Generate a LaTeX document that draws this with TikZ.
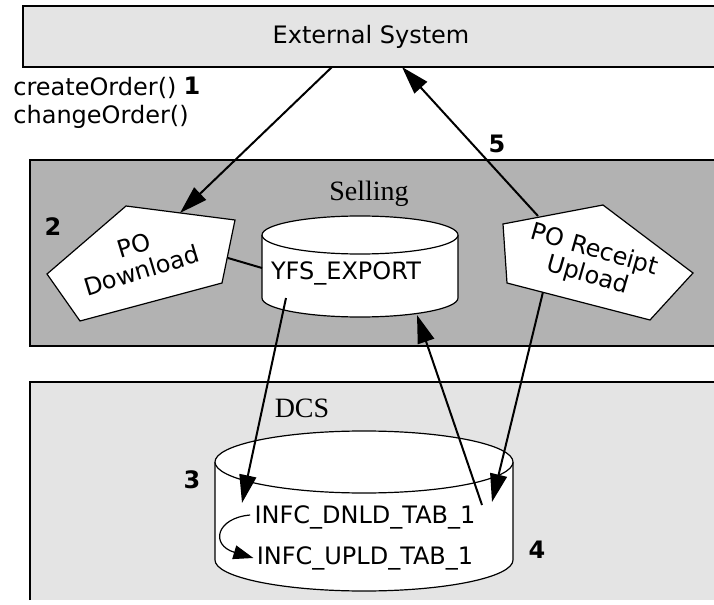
\documentclass[tikz,border=0pt]{standalone}
\usepackage{fontspec}
\setmainfont{DejaVu Sans}
\newfontfamily\labelserif{Liberation Serif}
\usepackage{tikz}
\usetikzlibrary{arrows.meta}
\usetikzlibrary{positioning}
\usetikzlibrary{calc}

\definecolor{lightbox}{HTML}{E4E4E4}
\definecolor{darkbox}{HTML}{B2B2B2}

\begin{document}
\begin{tikzpicture}[x=0.5pt, y=-0.5pt,
    every node/.style={inner sep=0pt, font=\fontsize{12}{13}\selectfont},
    flow/.style={line width=1pt, -{Triangle[length=14pt, width=8.5pt]}},
    stepnum/.style={font=\fontsize{12}{13}\selectfont\bfseries},
    area/.style={font=\fontsize{14}{15}\selectfont\labelserif},
    tabshape/.style={draw=black, line width=0.6pt, fill=white}]

        \useasboundingbox (0,0) rectangle (714,605);

        % Boxes in the back
        \draw[fill=lightbox, line width=1pt] (23,6) rectangle (730,67);
        \draw[fill=darkbox, line width=1pt] (30,160) rectangle (730,346);
        \fill[lightbox] (30,382) rectangle (730,600);
        \draw[line width=1pt] (30,600) -- (30,382) -- (730,382);

        % Texts of the boxes
        \node[anchor=base] (ext) at (371,43) {External System};
        \node[area, anchor=base] (sell) at (369,200) {Selling};
        \node[area, anchor=base] (dcs) at (302,417) {DCS};

        % Calls from the external system
        \node[anchor=base west] (create) at (13,96) {createOrder()};
        \node[anchor=base west] (change) at (13,123) {changeOrder()};

        % Step numbers
        \node[stepnum] (n1) at (192,86) {1};
        \node[stepnum] (n2) at (53,227) {2};
        \node[stepnum] (n3) at (192,480) {3};
        \node[stepnum] (n4) at (537,550) {4};
        \node[stepnum] (n5) at (497,144) {5};

        % PO Download shape
        \draw[tabshape] (126,206) -- (235,220) -- (222,283) -- (80,321) -- (47,274) -- cycle;
        \node[rotate=17, align=center] (dnld) at (138,258) {PO\\Download};

        % PO Receipt Upload shape
        \draw[tabshape] (503,224) -- (603,205) -- (693,273) -- (650,320) -- (507,283) -- cycle;
        \node[rotate=-16, align=center] (upld) at (591,263) {PO Receipt\\Upload};

        % YFS_EXPORT cylinder
        \draw[tabshape] (262,235) -- (262,298) arc[start angle=180, end angle=0, x radius=98, y radius=19] -- (458,235);
        \draw[tabshape] (360,235) ellipse[x radius=98, y radius=19];
        \node (yfs) at (346,273) {YFS\_EXPORT};

        % DCS cylinder with both tables
        \draw[tabshape] (215,462) -- (215,560) arc[start angle=180, end angle=0, x radius=149, y radius=31] -- (513,462);
        \draw[tabshape] (364,462) ellipse[x radius=149, y radius=31];
        \node (dtab) at (365,517) {INFC\_DNLD\_TAB\_1};
        \node (utab) at (365,558) {INFC\_UPLD\_TAB\_1};

        % Connector end points
        \coordinate (extout) at (332,67);
        \coordinate (extin) at (402,67);
        \coordinate (dnldin) at (180,213);
        \coordinate (dnldout) at (228,258);
        \coordinate (yfsin) at (262,268);
        \coordinate (yfsbot) at (286,298);
        \coordinate (yfsup) at (417,315);
        \coordinate (upldtop) at (538,216);
        \coordinate (upldbot) at (543,292);
        \coordinate (dtabin) at (242,503);
        \coordinate (dtabout) at (482,505);
        \coordinate (utabin) at (492,502);

        % Connectors
        \draw[flow] (extout) -- (dnldin);
        \draw[flow] (upldtop) -- (extin);
        \draw[line width=1pt] (dnldout) -- (yfsin);
        \draw[flow] (yfsbot) -- (dtabin);
        \draw[flow] (dtabout) -- (yfsup);
        \draw[flow] (upldbot) -- (utabin);
        \draw[line width=0.6pt, -{Triangle[length=10pt, width=7pt]}] (dtab.west) ++(-4,-2) .. controls (216,518) and (210,545) .. ($(utab.west)+(-3,0)$);

      \end{tikzpicture}
\end{document}
